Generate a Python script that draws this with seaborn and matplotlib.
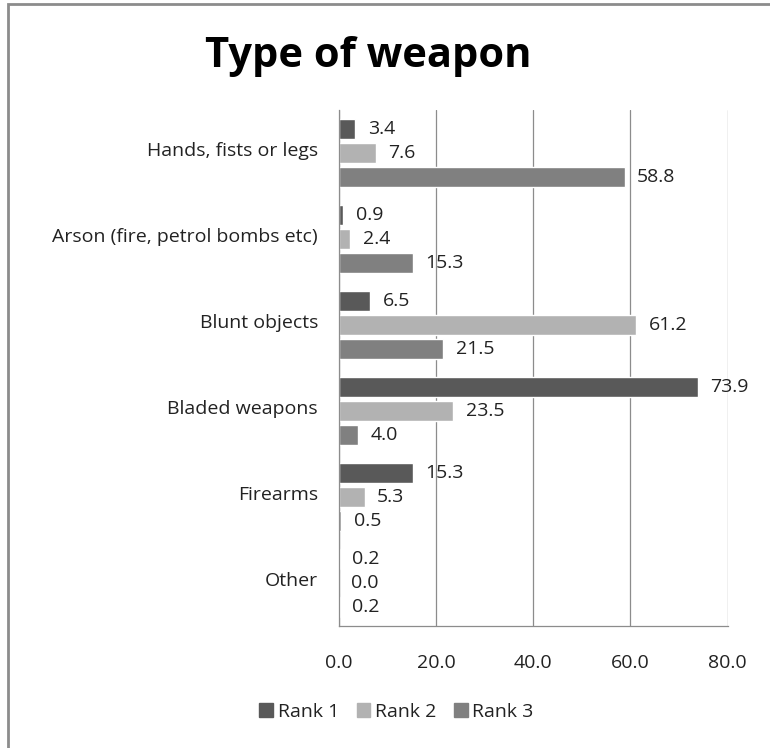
import matplotlib
matplotlib.use("Agg")
import matplotlib.pyplot as plt
import matplotlib.patches as mpatches
import pandas as pd
import seaborn as sns

categories = [
    "Hands, fists or legs",
    "Arson (fire, petrol bombs etc)",
    "Blunt objects",
    "Bladed weapons",
    "Firearms",
    "Other",
]
rank1 = [3.4, 0.9, 6.5, 73.9, 15.3, 0.2]
rank2 = [7.6, 2.4, 61.2, 23.5, 5.3, 0.0]
rank3 = [58.8, 15.3, 21.5, 4.0, 0.5, 0.2]
series = ["Rank 1", "Rank 2", "Rank 3"]
colors = ["#595959", "#b2b2b2", "#808080"]
xticks = [0, 20, 40, 60, 80]

df = pd.DataFrame({
    "Weapon": categories * 3,
    "Value": rank1 + rank2 + rank3,
    "Rank": [s for s in series for _ in categories],
})

sns.set_theme(style="white")
plt.rcParams["font.family"] = ["Open Sans", "DejaVu Sans"]
fs = 14

fig = plt.figure(figsize=(7.7, 7.48), dpi=100)
ax = fig.add_axes([0.440, 0.163, 0.505, 0.690])

sns.barplot(
    data=df, y="Weapon", x="Value", hue="Rank", order=categories,
    hue_order=series, palette=colors, orient="h", width=0.84, gap=0.16,
    ax=ax, legend=False, saturation=1,
)

for cont in ax.containers:
    ax.bar_label(cont, fmt="%.1f", padding=9, fontsize=fs, color="#222222")

ax.set_xlim(0, 80)
ax.set_xticks(xticks)
ax.set_xticklabels([f"{t:.1f}" for t in xticks], fontsize=fs)
ax.tick_params(axis="y", labelsize=fs, length=0, pad=15, colors="#222222")
ax.tick_params(axis="x", length=0, pad=20, colors="#222222")
ax.set_xlabel("")
ax.set_ylabel("")
ax.grid(axis="x", color="#8c8c8c", lw=0.9)
ax.set_axisbelow(True)
for side in ["top", "right"]:
    ax.spines[side].set_visible(False)
for side in ["left", "bottom"]:
    ax.spines[side].set_color("#8c8c8c")
    ax.spines[side].set_linewidth(0.9)

# category labels sit a little above the group centre in the original
from matplotlib.transforms import ScaledTranslation
for lbl in ax.get_yticklabels():
    lbl.set_transform(lbl.get_transform() + ScaledTranslation(0, 3 / 72, fig.dpi_scale_trans))

fig.text(0.478, 1 - 67 / 748, "Type of weapon", ha="center", va="baseline",
         fontsize=30, fontweight="bold", color="black")

handles = [mpatches.Patch(color=c, label=s) for c, s in zip(colors, series)]
fig.legend(handles=handles, loc="center", bbox_to_anchor=(0.515, 0.048),
           ncol=3, frameon=False, fontsize=fs, handlelength=0.7,
           handleheight=0.7, handletextpad=0.25, columnspacing=0.9,
           labelcolor="#222222")

border = mpatches.Rectangle((8 / 770, -0.1), 1.2, 1 - 4 / 748 + 0.1,
                            transform=fig.transFigure, fill=False,
                            edgecolor="#8c8c8c", lw=2)
fig.patches.append(border)

fig.savefig("out.png", dpi=100)
